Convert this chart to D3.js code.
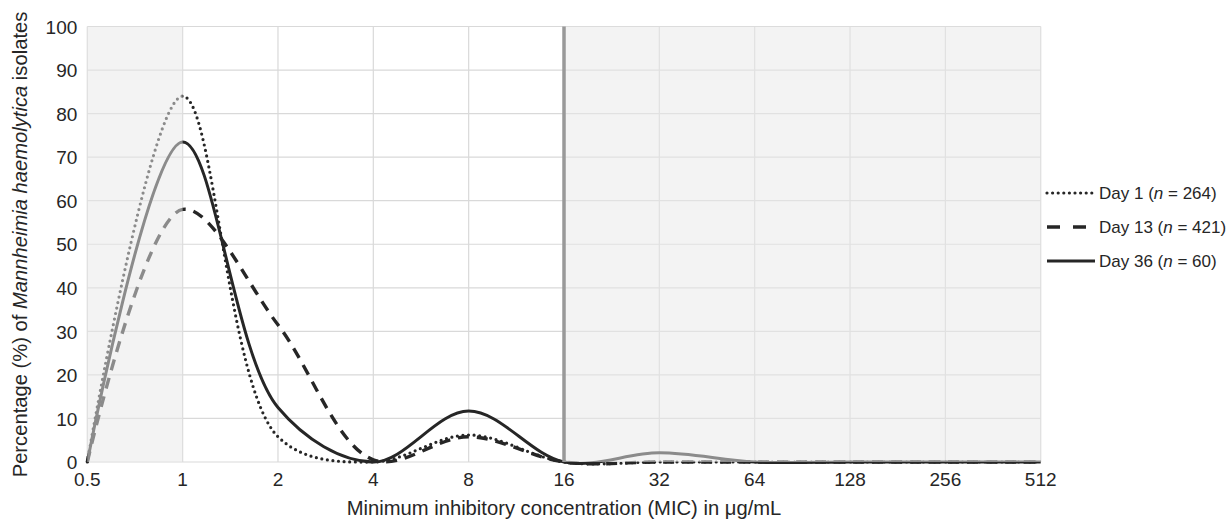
<!DOCTYPE html>
<html>
<head>
<meta charset="utf-8">
<script src="https://cdn.jsdelivr.net/npm/d3@7"></script>
<style>
	body { margin: 0; background: #fff; }
	svg { display: block; font-family: "Liberation Sans", Arial, sans-serif; }
	.tick-label { font-size: 19px; fill: #262626; }
	.axis-title { font-size: 20.2px; fill: #262626; }
	.legend-label { font-size: 17px; fill: #262626; }
</style>
</head>
<body>
<svg width="1231" height="521"></svg>
<script>
// MIC categories (ug/mL) and percentage of isolates per sampling day
var micValues = [0.5, 1, 2, 4, 8, 16, 32, 64, 128, 256, 512];
var micLabels = ["0.5", "1", "2", "4", "8", "16", "32", "64", "128", "256", "512"];
var day1 = [0, 84, 5.8, 0, 6.2, 0, 0, 0, 0, 0, 0];
var day13 = [0, 58, 31.5, 0.5, 5.8, 0, 0, 0, 0, 0, 0];
var day36 = [0, 73.5, 12.5, 0, 11.7, 0, 2.1, 0, 0, 0, 0];
var yTicks = [0, 10, 20, 30, 40, 50, 60, 70, 80, 90, 100];
var seriesNames = ["Day 1", "Day 13", "Day 36"];
var seriesN = [264, 421, 60];
// shaded ranges of the x axis, and the breakpoint line
var shadedRanges = [[0.5, 1], [16, 512]];
var breakpoint = 16;

var svg = d3.select("svg"),
	margin = {top: 26.5, right: 190, bottom: 59, left: 87.3},
	width = 1040.7 - margin.left,
	height = 462 - margin.top,
	ink = "#262626";

var g = svg.append("g")
	.attr("transform", "translate(" + margin.left + "," + margin.top + ")");

var x = d3.scaleLog().base(2)
	.domain([0.5, 512])
	.range([0, width]);

var y = d3.scaleLinear()
	.domain([0, 100])
	.range([height, 0]);

// grid
g.selectAll("line.hgrid")
	.data(yTicks)
	.enter().append("line")
		.attr("class", "hgrid")
		.attr("x1", 0).attr("x2", width)
		.attr("y1", function(d) { return y(d); })
		.attr("y2", function(d) { return y(d); })
		.attr("stroke", "#d9d9d9")
		.attr("stroke-width", 1.2);

g.selectAll("line.vgrid")
	.data(micValues)
	.enter().append("line")
		.attr("class", "vgrid")
		.attr("x1", function(d) { return x(d); })
		.attr("x2", function(d) { return x(d); })
		.attr("y1", 0).attr("y2", height)
		.attr("stroke", "#d9d9d9")
		.attr("stroke-width", 1.2);

// series lines
var series = [
	{name: seriesNames[0], n: seriesN[0], values: day1, dash: "0 5.6", cap: "round", w: 3.2},
	{name: seriesNames[1], n: seriesN[1], values: day13, dash: "11 8", cap: "butt", w: 3.4},
	{name: seriesNames[2], n: seriesN[2], values: day36, dash: null, cap: "butt", w: 3}
];

var line = d3.line()
	.x(function(d, i) { return x(micValues[i]); })
	.y(function(d) { return y(d); })
	.curve(d3.curveCatmullRom.alpha(0.5));

g.selectAll("path.series")
	.data(series)
	.enter().append("path")
		.attr("class", "series")
		.attr("d", function(d) { return line(d.values); })
		.attr("fill", "none")
		.attr("stroke", ink)
		.attr("stroke-width", function(d) { return d.w; })
		.attr("stroke-linecap", function(d) { return d.cap; })
		.attr("stroke-dasharray", function(d) { return d.dash; });

// translucent veil over the shaded ranges (greys out the lines there too)
g.selectAll("rect.veil")
	.data(shadedRanges)
	.enter().append("rect")
		.attr("class", "veil")
		.attr("x", function(d) { return x(d[0]); })
		.attr("width", function(d) { return x(d[1]) - x(d[0]); })
		.attr("y", y(100))
		.attr("height", y(0) - y(100))
		.attr("fill", "#e8e8e8")
		.attr("fill-opacity", 0.52);

// breakpoint line
g.append("line")
	.attr("x1", x(breakpoint)).attr("x2", x(breakpoint))
	.attr("y1", y(100)).attr("y2", y(0))
	.attr("stroke", "#999")
	.attr("stroke-width", 3.5);

// axis labels
g.selectAll("text.ylab")
	.data(yTicks)
	.enter().append("text")
		.attr("class", "tick-label ylab")
		.attr("x", -10)
		.attr("y", function(d) { return y(d); })
		.attr("dy", "0.38em")
		.attr("text-anchor", "end")
		.text(function(d) { return d; });

g.selectAll("text.xlab")
	.data(micValues)
	.enter().append("text")
		.attr("class", "tick-label xlab")
		.attr("x", function(d) { return x(d); })
		.attr("y", height + 23.5)
		.attr("text-anchor", "middle")
		.text(function(d, i) { return micLabels[i]; });

svg.append("text")
	.attr("class", "axis-title")
	.attr("x", margin.left + width / 2)
	.attr("y", 515)
	.attr("text-anchor", "middle")
	.text("Minimum inhibitory concentration (MIC) in \u03bcg/mL");

var yTitle = svg.append("text")
	.attr("class", "axis-title")
	.attr("transform", "translate(27," + 244.5 + ") rotate(-90)")
	.attr("text-anchor", "middle");
yTitle.append("tspan").text("Percentage (%) of ");
yTitle.append("tspan").attr("font-style", "italic").text("Mannheimia haemolytica");
yTitle.append("tspan").text(" isolates");

// legend
var legend = svg.append("g")
	.attr("transform", "translate(1047,193)");

var item = legend.selectAll("g.item")
	.data(series)
	.enter().append("g")
		.attr("class", "item")
		.attr("transform", function(d, i) { return "translate(0," + i * 34 + ")"; });

item.append("line")
	.attr("x1", 0)
	.attr("x2", function(d, i) { return i === 1 ? 39 : 48; })
	.attr("y1", 0).attr("y2", 0)
	.attr("stroke", ink)
	.attr("stroke-width", function(d) { return d.w; })
	.attr("stroke-linecap", function(d) { return d.cap; })
	.attr("stroke-dasharray", function(d, i) { return i === 1 ? "13 13" : d.dash; });

var label = item.append("text")
	.attr("class", "legend-label")
	.attr("x", 52)
	.attr("dy", "0.36em");
label.append("tspan").text(function(d) { return d.name + " ("; });
label.append("tspan").attr("font-style", "italic").text("n");
label.append("tspan").text(function(d) { return " = " + d.n + ")"; });
</script>
</body>
</html>
